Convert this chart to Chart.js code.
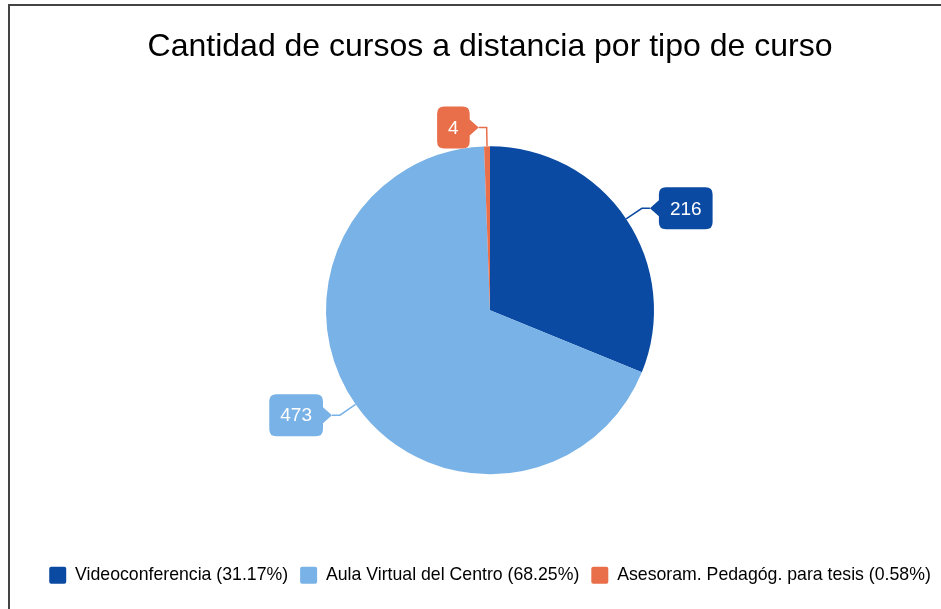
<!DOCTYPE html>
<html lang="es">
<head>
<meta charset="UTF-8">
<title>Cantidad de cursos a distancia por tipo de curso</title>
<script src="https://cdn.jsdelivr.net/npm/chart.js"></script>
<style>
    html, body { margin: 0; padding: 0; background: #fff; }
    #wrap { position: relative; width: 941px; height: 609px; overflow: hidden; }
    #frame { position: absolute; left: 8px; top: 4px; width: 1000px; height: 700px;
             border-top: 2px solid #444; border-left: 2px solid #444; }
    canvas { position: absolute; left: 0; top: 0; }
</style>
</head>
<body>
<div id="wrap">
    <div id="frame"></div>
    <canvas id="myChart" width="980" height="609"></canvas>
</div>
<script>
// datos del gráfico
const labels = ['Videoconferencia', 'Aula Virtual del Centro', 'Asesoram. Pedagóg. para tesis'];
const values = [216, 473, 4];
const colors = ['#0b4aa2', '#79b2e6', '#e96e4a'];

const FONT = '"Liberation Sans", Arial, Helvetica, sans-serif';
const total = values.reduce((a, b) => a + b, 0);

// etiquetas con globo y línea guía
const calloutPlugin = {
    id: 'callouts',
    afterDatasetsDraw(chart) {
        const ctx = chart.ctx;
        const meta = chart.getDatasetMeta(0);
        ctx.save();
        ctx.font = '19px ' + FONT;
        meta.data.forEach((arc, i) => {
            const p = arc.getProps(['x', 'y', 'startAngle', 'endAngle', 'outerRadius'], true);
            const mid = (p.startAngle + p.endAngle) / 2;
            const ax = p.x + Math.cos(mid) * p.outerRadius;
            const ay = p.y + Math.sin(mid) * p.outerRadius;
            const ex = p.x + Math.cos(mid) * (p.outerRadius + 19);
            const ey = p.y + Math.sin(mid) * (p.outerRadius + 19);
            const dir = Math.cos(mid) >= 0 ? 1 : -1;
            const tipX = ex + dir * 8;
            const notch = 9;
            const text = String(values[i]);
            const w = ctx.measureText(text).width + 22;
            const h = 42;
            const r = 7;
            const bx = dir > 0 ? tipX + notch : tipX - notch - w;
            const by = ey - h / 2;

            ctx.strokeStyle = colors[i];
            ctx.lineWidth = 1.5;
            ctx.beginPath();
            ctx.moveTo(ax, ay);
            ctx.lineTo(ex, ey);
            ctx.lineTo(tipX, ey);
            ctx.stroke();

            // caja redondeada con pico hacia el gráfico
            ctx.fillStyle = colors[i];
            ctx.beginPath();
            ctx.moveTo(bx + r, by);
            ctx.lineTo(bx + w - r, by);
            ctx.quadraticCurveTo(bx + w, by, bx + w, by + r);
            if (dir < 0) {
                ctx.lineTo(bx + w, ey - 8);
                ctx.lineTo(tipX, ey);
                ctx.lineTo(bx + w, ey + 8);
            }
            ctx.lineTo(bx + w, by + h - r);
            ctx.quadraticCurveTo(bx + w, by + h, bx + w - r, by + h);
            ctx.lineTo(bx + r, by + h);
            ctx.quadraticCurveTo(bx, by + h, bx, by + h - r);
            if (dir > 0) {
                ctx.lineTo(bx, ey + 8);
                ctx.lineTo(tipX, ey);
                ctx.lineTo(bx, ey - 8);
            }
            ctx.lineTo(bx, by + r);
            ctx.quadraticCurveTo(bx, by, bx + r, by);
            ctx.closePath();
            ctx.fill();

            ctx.fillStyle = '#ffffff';
            ctx.textAlign = 'center';
            ctx.textBaseline = 'middle';
            ctx.fillText(text, bx + w / 2, ey + 1);
        });
        ctx.restore();
    }
};

const ctx = document.getElementById('myChart').getContext('2d');
const myChart = new Chart(ctx, {
    type: 'pie',
    data: {
        labels: labels,
        datasets: [{
            data: values,
            backgroundColor: colors,
            borderWidth: 0,
            radius: 164
        }]
    },
    options: {
        responsive: false,
        devicePixelRatio: 1,
        animation: false,
        layout: { padding: { left: 0, top: 0, right: 0, bottom: 15 } },
        plugins: {
            title: {
                display: true,
                text: 'Cantidad de cursos a distancia por tipo de curso',
                color: '#000',
                font: { family: FONT, size: 32, weight: 'normal' },
                padding: { top: 28, bottom: 0 }
            },
            legend: {
                position: 'bottom',
                labels: {
                    color: '#222',
                    font: { family: FONT, size: 17.7 },
                    boxWidth: 17,
                    boxHeight: 17,
                    padding: 12,
                    useBorderRadius: true,
                    borderRadius: 2,
                    generateLabels(chart) {
                        return labels.map((l, i) => ({
                            text: l + ' (' + (values[i] / total * 100).toFixed(2) + '%)',
                            fillStyle: colors[i],
                            strokeStyle: colors[i],
                            lineWidth: 0,
                            borderRadius: 2,
                            index: i
                        }));
                    }
                }
            },
            tooltip: { enabled: false }
        }
    },
    plugins: [calloutPlugin]
});
</script>
</body>
</html>
